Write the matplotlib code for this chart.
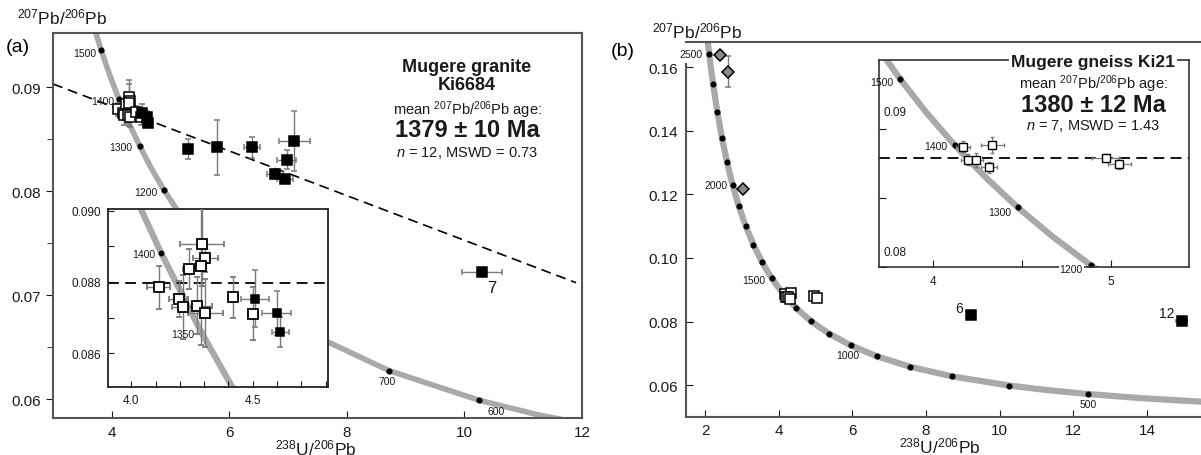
import matplotlib.pyplot as plt

plt.rcParams['font.family'] = ['Liberation Sans', 'DejaVu Sans']
plt.rcParams['mathtext.fontset'] = 'custom'
plt.rcParams['mathtext.rm'] = 'Liberation Sans'
plt.rcParams['mathtext.it'] = 'Liberation Sans:italic'
plt.rcParams['mathtext.bf'] = 'Liberation Sans:bold'

# concordia (Tera-Wasserburg), ages in Ma with 238U/206Pb and 207Pb/206Pb
conc_age = [400, 450, 500, 550, 600, 700, 800, 900, 1000, 1100, 1150, 1200, 1250, 1300,
            1350, 1400, 1450, 1500, 1550, 1600, 1700, 1800, 1900, 2000, 2100, 2200,
            2300, 2400, 2500, 2600]
conc_x = [15.621, 13.831, 12.399, 11.228, 10.252, 8.718, 7.568, 6.674, 5.960, 5.375, 5.120,
          4.887, 4.673, 4.476, 4.293, 4.123, 3.965, 3.817, 3.679, 3.550, 3.314, 3.105,
          2.917, 2.749, 2.597, 2.459, 2.333, 2.217, 2.111, 2.013]
conc_y = [0.05470, 0.05594, 0.05722, 0.05854, 0.05990, 0.06275, 0.06580, 0.06905, 0.07250,
          0.07619, 0.07812, 0.08012, 0.08219, 0.08432, 0.08653, 0.08881, 0.09116, 0.09360,
          0.09611, 0.09872, 0.10419, 0.11004, 0.11629, 0.12299, 0.13015, 0.13782, 0.14603,
          0.15483, 0.16426, 0.17437]

# (a) Mugere granite Ki6684
gran_open_x = [4.112, 4.195, 4.212, 4.236, 4.272, 4.291, 4.305, 4.285, 4.305, 4.418, 4.500]
gran_open_y = [0.08785, 0.08753, 0.08729, 0.08837, 0.08733, 0.08908, 0.08867, 0.08844,
               0.08713, 0.08757, 0.08711]
gran_open_xerr = [0.048, 0.038, 0.045, 0.025, 0.06, 0.09, 0.05, 0.02, 0.072, 0.02, 0.02]
gran_open_yerr = [0.00061, 0.0005, 0.0009, 0.00056, 0.0008, 0.0012, 0.0004, 0.0022,
                  0.00096, 0.00058, 0.00075]
gran_fill_x = [4.510, 4.598, 4.614, 5.294, 5.795, 6.388, 6.775, 6.946, 6.974, 7.106, 10.296]
gran_fill_y = [0.08753, 0.08713, 0.08659, 0.08404, 0.0842, 0.0842, 0.08163, 0.08115,
               0.08301, 0.08484, 0.07221]
gran_fill_xerr = [0.058, 0.058, 0.035, 0.04, 0.03, 0.13, 0.14, 0.14, 0.16, 0.26, 0.34]
gran_fill_yerr = [0.0008, 0.00062, 0.00042, 0.00093, 0.0026, 0.001, 0.0005, 0.0004,
                  0.0009, 0.0029, 0.0004]
disc_x = [3.0, 11.9]
disc_y = [0.0903, 0.0712]
gran_mean = 0.08797

# (b) Mugere gneiss Ki21
gn_open_x = [4.167, 4.333, 4.198, 4.240, 4.315, 4.970, 5.047]
gn_open_y = [0.08873, 0.08885, 0.08777, 0.08777, 0.08724, 0.08789, 0.08748]
gn_open_xerr = [0.04, 0.065, 0.04, 0.04, 0.045, 0.075, 0.065]
gn_open_yerr = [0.0004, 0.0006, 0.0004, 0.0005, 0.0004, 0.0003, 0.0004]
gn_fill_x = [9.22, 14.95]
gn_fill_y = [0.0822, 0.0802]
gn_fill_xerr = [0.08, 0.15]
gn_fill_yerr = [0.0008, 0.0005]
gn_fill_lab = ['6', '12']
gn_dia_x = [2.41, 2.62, 3.02]
gn_dia_y = [0.1638, 0.1585, 0.1218]
gn_dia_xerr = [0.04, 0.04, 0.04]
gn_dia_yerr = [0.0012, 0.0049, 0.0008]
gn_mean = 0.0879

W, H = 1201, 456


def box(l, t, r, b):
    return [l / W, 1 - b / H, (r - l) / W, (b - t) / H]


def px(x, y):
    return x / W, 1 - y / H


dot_x = [x for a, x in zip(conc_age, conc_x) if a % 100 == 0 and 500 <= a <= 2500]
dot_y = [y for a, y in zip(conc_age, conc_y) if a % 100 == 0 and 500 <= a <= 2500]
age_xy = {a: (x, y) for a, x, y in zip(conc_age, conc_x, conc_y)}

GREY = '#a9a9a9'
ECOL = '#7a7a7a'
TXT = '#1a1a1a'


def concordia(ax, lw=4.0, ms=3.4):
    ax.plot(conc_x, conc_y, color=GREY, lw=lw, solid_capstyle='butt', zorder=1)
    ax.plot(dot_x, dot_y, 'o', color='black', ms=ms, zorder=2)


def age_label(ax, age, dx, dy, ha='right', fs=7.5, bg=False):
    x, y = age_xy[age]
    t = ax.annotate(str(age), (x, y), xytext=(dx, dy), textcoords='offset pixels',
                    ha=ha, va='center', fontsize=fs, color=TXT, zorder=4,
                    annotation_clip=False)
    if bg:
        t.set_bbox(dict(facecolor='white', edgecolor='none', pad=0.5))


def points(ax, x, y, xe, ye, marker='s', fc='white', ms=7, mew=1.1, capsize=2.5, elw=1.0):
    ax.errorbar(x, y, xerr=xe, yerr=ye, fmt=marker, ms=ms, mfc=fc, mec='black', mew=mew,
                ecolor=ECOL, elinewidth=elw, capsize=capsize, capthick=elw, zorder=3)


fig = plt.figure(figsize=(12.01, 4.56), dpi=100)

# ---------------- panel (a) ----------------
ax = fig.add_axes(box(53, 34, 582, 419))
concordia(ax)
ax.plot(disc_x, disc_y, color='black', lw=1.2, ls=(0, (6, 3.5)), zorder=2)
points(ax, gran_open_x, gran_open_y, gran_open_xerr, gran_open_yerr, ms=7)
points(ax, gran_fill_x, gran_fill_y, gran_fill_xerr, gran_fill_yerr, fc='black', ms=7.5)
ax.set_xlim(3.0, 12.0)
ax.set_ylim(0.0582, 0.0952)
ax.set_xticks([4, 6, 8, 10, 12])
ax.set_yticks([0.06, 0.07, 0.08, 0.09])
ax.set_yticklabels(['0.06', '0.07', '0.08', '0.09'])
ax.set_yticks([0.065, 0.075, 0.085], minor=True)
ax.tick_params(axis='x', direction='in', length=5, labelsize=11, colors=TXT, pad=5)
ax.tick_params(axis='y', direction='out', length=5, labelsize=11, colors=TXT, pad=4)
ax.tick_params(axis='y', which='minor', direction='out', length=4, colors=TXT)
for s in ax.spines.values():
    s.set_color('#555555')
    s.set_linewidth(1.5)
age_label(ax, 1500, -5, -3)
age_label(ax, 1400, -5, -2)
age_label(ax, 1300, -7, -1)
age_label(ax, 1200, -6, -2)
age_label(ax, 700, -2, -10, ha='center')
age_label(ax, 600, 17, -11, ha='center')
ax.annotate('7', (gran_fill_x[-1], gran_fill_y[-1]), xytext=(10, -15),
            textcoords='offset pixels', ha='center', va='center', fontsize=12, color=TXT)

# inset (a)
ai = fig.add_axes(box(108, 210, 328, 388))
ai.set_facecolor('white')
concordia(ai, lw=4.5, ms=3.2)
ai.axhline(gran_mean, color='black', lw=1.3, ls=(0, (6, 3.5)), zorder=2)
points(ai, gran_open_x, gran_open_y, gran_open_xerr, gran_open_yerr, ms=7.5, mew=1.3)
points(ai, gran_fill_x, gran_fill_y, gran_fill_xerr, gran_fill_yerr, fc='black', ms=6)
ai.set_xlim(3.904, 4.81)
ai.set_ylim(0.08505, 0.09005)
ai.set_xticks([4.0, 4.1, 4.2, 4.3, 4.4, 4.5, 4.6, 4.7, 4.8])
ai.set_xticklabels(['4.0', '', '', '', '', '4.5', '', '', ''])
ai.set_yticks([0.086, 0.087, 0.088, 0.089, 0.090])
ai.set_yticklabels(['0.086', '', '0.088', '', '0.090'])
ai.tick_params(direction='in', length=4, labelsize=8.5, colors=TXT, pad=5)
for s in ai.spines.values():
    s.set_color('#222222')
    s.set_linewidth(1.3)
age_label(ai, 1400, -6, -1, fs=7.5)
age_label(ai, 1350, -8, 0, fs=7.5)

# ---------------- panel (b) ----------------
bx = fig.add_axes(box(686, 43, 1201, 418))
concordia(bx, lw=4.5, ms=3.4)
points(bx, gn_open_x, gn_open_y, gn_open_xerr, gn_open_yerr, ms=6.5, capsize=1.5)
points(bx, gn_fill_x, gn_fill_y, gn_fill_xerr, gn_fill_yerr, fc='black', ms=7, capsize=1.5)
points(bx, gn_dia_x, gn_dia_y, gn_dia_xerr, gn_dia_yerr, marker='D', fc='#8a8a8a', ms=6.5,
       capsize=2)
bx.set_xlim(1.484, 15.467)
bx.set_ylim(0.05, 0.1679)
bx.set_xticks([2, 4, 6, 8, 10, 12, 14])
bx.set_yticks([0.06, 0.08, 0.10, 0.12, 0.14, 0.16])
bx.set_yticklabels(['0.06', '0.08', '0.10', '0.12', '0.14', '0.16'])
bx.tick_params(direction='in', length=5, labelsize=11, colors=TXT, pad=4)
bx.tick_params(axis='y', pad=6)
bx.spines['right'].set_visible(False)
bx.spines['left'].set_bounds(0.05, 0.161)
for s in bx.spines.values():
    s.set_color('#555555')
    s.set_linewidth(1.5)
age_label(bx, 2500, -7, 0)
age_label(bx, 2000, -5, 0)
age_label(bx, 1500, -7, -2)
age_label(bx, 1000, -3, -10, ha='center')
age_label(bx, 500, 0, -10, ha='center')
for x, y, lab, off in zip(gn_fill_x, gn_fill_y, gn_fill_lab, [(-12, 7), (-15, 8)]):
    bx.annotate(lab, (x, y), xytext=off, textcoords='offset pixels', ha='center',
                va='center', fontsize=10, color=TXT)

# inset (b)
bi = fig.add_axes(box(879, 61, 1189, 268))
bi.set_facecolor('white')
concordia(bi, lw=4.5, ms=3.4)
bi.axhline(gn_mean, color='black', lw=1.3, ls=(0, (6, 3.5)), zorder=2)
points(bi, gn_open_x, gn_open_y, gn_open_xerr, gn_open_yerr, ms=5.5, mew=1.0, capsize=1.5,
       elw=0.9)
bi.set_xlim(3.697, 5.438)
bi.set_ylim(0.08, 0.095)
bi.set_xticks([4.0, 4.5, 5.0])
bi.set_xticklabels(['4', '', '5'])
bi.set_yticks([0.08, 0.085, 0.09])
bi.set_yticklabels([])
bi.tick_params(direction='in', length=5, labelsize=8.5, colors=TXT, pad=6)
bi.text(3.725, 0.0912, '0.09', fontsize=8.5, color=TXT, va='center')
bi.text(3.72, 0.0811, '0.08', fontsize=8.5, color=TXT, va='center')
for s in bi.spines.values():
    s.set_color('#333333')
    s.set_linewidth(1.2)
age_label(bi, 1500, -7, -3)
age_label(bi, 1400, -8, -1)
age_label(bi, 1300, -6, -5)
age_label(bi, 1200, -8, -4, bg=True)

# ---------------- texts ----------------
pb76 = r'$^{207}$Pb/$^{206}$Pb'
u86 = r'$^{238}$U/$^{206}$Pb'
fig.text(*px(17, 17), pb76, fontsize=12.5, color=TXT, va='center')
fig.text(*px(652, 31), pb76, fontsize=12.5, color=TXT, va='center')
fig.text(*px(316, 448), u86, fontsize=12.5, color=TXT, ha='center', va='center')
fig.text(*px(940, 446), u86, fontsize=12.5, color=TXT, ha='center', va='center')
fig.text(*px(6, 47), '(a)', fontsize=14, color='black', va='center')
fig.text(*px(611, 51), '(b)', fontsize=14, color='black', va='center')

fig.text(*px(467, 67), 'Mugere granite', fontsize=13, weight='bold', ha='center',
         va='center', color=TXT)
fig.text(*px(467, 86), 'Ki6684', fontsize=13, weight='bold', ha='center', va='center',
         color=TXT)
fig.text(*px(467, 110), 'mean ' + pb76 + ' age:', fontsize=10.5, ha='center', va='center',
         color=TXT)
fig.text(*px(467, 131), '1379 ± 10 Ma', fontsize=17, weight='bold', ha='center',
         va='center', color=TXT)
fig.text(*px(467, 153), r'$n$ = 12, MSWD = 0.73', fontsize=10.5, ha='center', va='center',
         color=TXT)

fig.text(*px(1093, 63), 'Mugere gneiss Ki21', fontsize=12.5, weight='bold', ha='center',
         va='center', color=TXT, zorder=5,
         bbox=dict(facecolor='white', edgecolor='none', pad=1.5))
fig.text(*px(1093, 84), 'mean ' + pb76 + ' age:', fontsize=10.5, ha='center', va='center',
         color=TXT)
fig.text(*px(1093, 105), '1380 ± 12 Ma', fontsize=17, weight='bold', ha='center',
         va='center', color=TXT)
fig.text(*px(1093, 126), r'$n$ = 7, MSWD = 1.43', fontsize=10.5, ha='center', va='center',
         color=TXT)

fig.savefig('out.png', dpi=100)
